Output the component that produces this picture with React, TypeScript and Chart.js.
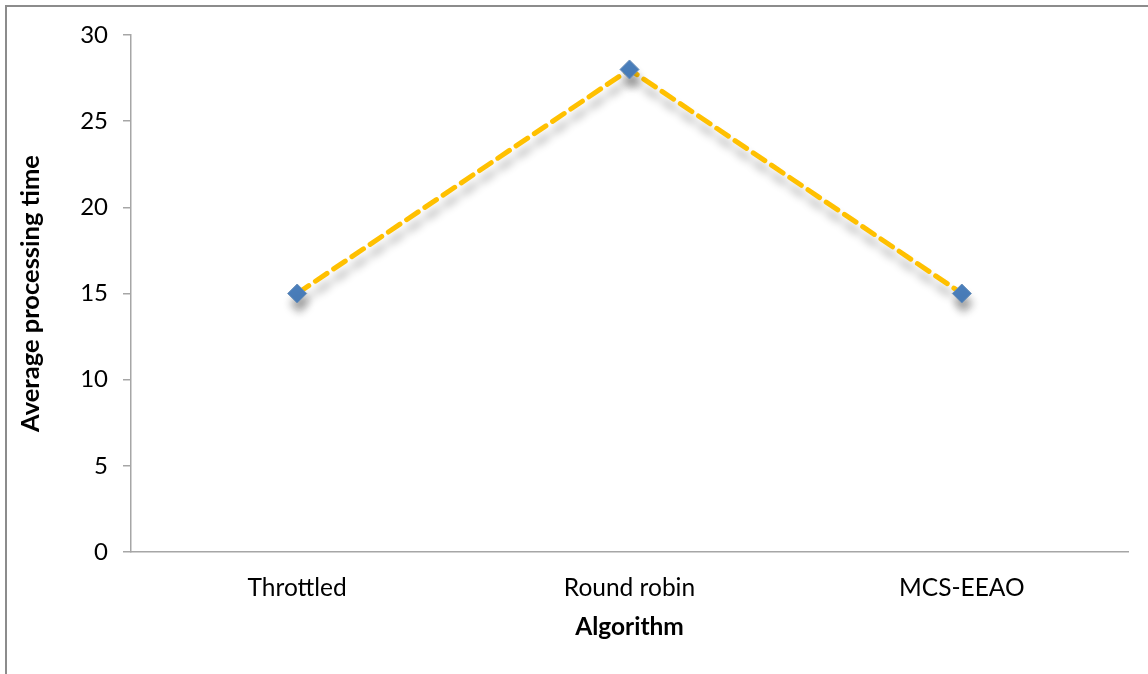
import React, { useEffect, useRef } from "react";
import { Chart, registerables } from "chart.js";

Chart.register(...registerables);

// Average processing time per scheduling algorithm
const algorithms: string[] = ["Throttled", "Round robin", "MCS-EEAO"];
const avgProcessingTime: number[] = [15, 28, 15];
const yTicks: number[] = [0, 5, 10, 15, 20, 25, 30];

const FONT = "Lato, 'Noto Sans', sans-serif";
const AXIS_GRAY = "#a6a6a6";

// Soft drop shadow under the line and markers
const shadowPlugin = {
  id: "lineShadow",
  beforeDatasetsDraw(chart: Chart) {
    const ctx = chart.ctx;
    ctx.save();
    ctx.shadowColor = "rgba(0,0,0,0.3)";
    ctx.shadowBlur = 9;
    ctx.shadowOffsetX = 2;
    ctx.shadowOffsetY = 10;
  },
  afterDatasetsDraw(chart: Chart) {
    chart.ctx.restore();
  },
};

export default function App() {
  const canvasRef = useRef<HTMLCanvasElement | null>(null);

  useEffect(() => {
    document.body.style.margin = "0";
    const canvas = canvasRef.current;
    if (!canvas) return;
    const chart = new Chart(canvas, {
      type: "line",
      data: {
        labels: algorithms,
        datasets: [
          {
            label: "Average processing time",
            data: avgProcessingTime,
            borderColor: "#FFC000",
            borderWidth: 5,
            borderDash: [14, 8],
            borderCapStyle: "round",
            tension: 0,
            fill: false,
            pointStyle: "rectRot",
            pointRadius: 9.5,
            pointHoverRadius: 9.5,
            pointBackgroundColor: "#4A7EBB",
            pointBorderColor: "#6a8fb8",
            pointBorderWidth: 1,
          },
        ],
      },
      options: {
        animation: false,
        responsive: false,
        maintainAspectRatio: false,
        layout: { padding: { top: 35, right: 20, bottom: 0, left: 0 } },
        plugins: {
          legend: { display: false },
          tooltip: { enabled: false },
          title: { display: false },
        },
        scales: {
          x: {
            type: "category",
            offset: true,
            grid: { display: false, drawTicks: false },
            border: { display: true, color: AXIS_GRAY, width: 1.5 },
            ticks: {
              color: "#000",
              padding: 21,
              font: { family: FONT, size: 24.5 },
            },
            title: {
              display: true,
              text: "Algorithm",
              color: "#000",
              font: { family: FONT, size: 24.5, weight: "bold" },
              padding: { top: 0, bottom: 32 },
            },
            afterFit(scale: any) {
              scale.height = 122;
            },
          },
          y: {
            min: 0,
            max: 30,
            afterBuildTicks(scale: any) {
              scale.ticks = yTicks.map((v) => ({ value: v }));
            },
            grid: {
              display: true,
              drawOnChartArea: false,
              drawTicks: true,
              tickLength: 8,
              color: AXIS_GRAY,
              lineWidth: 1.5,
            },
            border: { display: true, color: AXIS_GRAY, width: 1.5 },
            ticks: {
              color: "#000",
              padding: 15,
              font: { family: FONT, size: 24 },
            },
            title: {
              display: true,
              text: "Average processing time",
              color: "#000",
              font: { family: FONT, size: 25.5, weight: "bold" },
              padding: { top: 15, bottom: 0 },
            },
            afterFit(scale: any) {
              scale.width = 131;
            },
          },
        },
      },
      plugins: [shadowPlugin],
    });
    return () => chart.destroy();
  }, []);

  return (
    <div style={{ position: "relative", width: 1148, height: 674, background: "#fff" }}>
      <div
        style={{
          position: "absolute",
          left: 5,
          top: 5,
          right: 0,
          bottom: 0,
          borderLeft: "2px solid #8c8c8c",
          borderTop: "2px solid #8c8c8c",
        }}
      />
      <canvas ref={canvasRef} width={1148} height={674} style={{ position: "absolute", left: 0, top: 0 }} />
    </div>
  );
}
